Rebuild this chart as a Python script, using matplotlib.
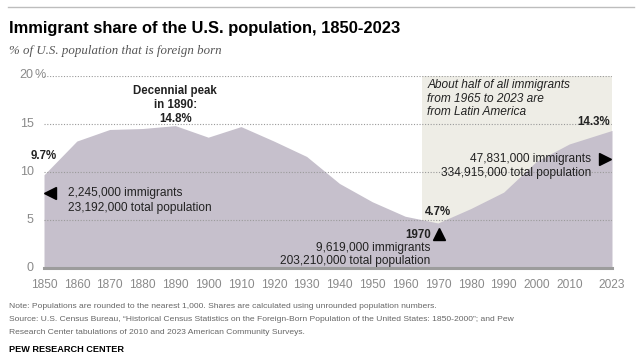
import matplotlib
matplotlib.use('Agg')
import matplotlib.pyplot as plt
import numpy as np

# data
years = [1850, 1860, 1870, 1880, 1890, 1900, 1910, 1920, 1930, 1940,
         1950, 1960, 1970, 1980, 1990, 2000, 2010, 2023]
share = [9.7, 13.2, 14.4, 14.5, 14.8, 13.6, 14.7, 13.2, 11.6, 8.8,
         6.9, 5.4, 4.7, 6.2, 7.9, 11.1, 12.9, 14.3]
tick_years = [1850, 1860, 1870, 1880, 1890, 1900, 1910, 1920, 1930, 1940,
              1950, 1960, 1970, 1980, 1990, 2000, 2010, 2023]
yticks = [0, 5, 10, 15, 20]
latin_start, latin_end = 1965, 2023

W, H = 642, 355
AREA = '#c6c0cc'
BAND = '#eeede6'
GRAY = '#8a8a8a'
TXT = '#222222'
SANS = ['Liberation Sans', 'DejaVu Sans']

fig = plt.figure(figsize=(W/100, H/100), dpi=100)
fig.patch.set_facecolor('white')

def fx(x): return x / W
def fy(y): return 1 - y / H

# axes placement (pixels)
x0, x1, y0, y1 = 44, 612, 268.3, 75.5
ax = fig.add_axes([fx(x0), fy(y0), fx(x1) - fx(x0), fy(y1) - fy(y0)])
ax.set_xlim(1850, 2023)
ax.set_ylim(0, 20)
for s in ax.spines.values():
    s.set_visible(False)
ax.set_xticks([]); ax.set_yticks([])
ax.patch.set_alpha(0)

# Latin America band
ax.axvspan(latin_start, latin_end, ymin=0, ymax=1, color=BAND, lw=0, zorder=0)
# area
ax.fill_between(years, share, 0, color=AREA, lw=0, zorder=1)
# grid lines
for v in yticks[1:]:
    ax.axhline(v, color='#9a9a9a', lw=0.8, ls=(0, (1, 1.5)), zorder=2)
ax.axhline(0, color='#9c9c9c', lw=2.2, zorder=3, clip_on=False)

# y labels
for v in yticks:
    ax.text(-0.018, v, str(v), transform=ax.get_yaxis_transform(), ha='right', va='center',
            fontsize=9, color=GRAY, family=SANS)
ax.text(-0.016, 20, '%', transform=ax.get_yaxis_transform(), ha='left', va='center',
        fontsize=9, color=GRAY, family=SANS)
# x labels
for yr in tick_years:
    ax.text(yr, -0.055, str(yr), transform=ax.get_xaxis_transform(), ha='center', va='top',
            fontsize=8.6, color=GRAY, family=SANS)

# annotations
ax.text(1850, 11.7, '9.7%', ha='center', va='center', fontsize=8.3, fontweight='bold', color=TXT, family=SANS)
ax.plot(1851.8, 7.8, marker='<', ms=8, color='black', clip_on=False, zorder=5)
ax.text(1857.2, 7.8, '2,245,000 immigrants', ha='left', va='center', fontsize=8.6, color=TXT, family=SANS)
ax.text(1857.2, 6.25, '23,192,000 total population', ha='left', va='center', fontsize=8.6, color=TXT, family=SANS)

ax.text(1890, 16.95, 'Decennial peak\nin 1890:\n14.8%', ha='center', va='center', fontsize=8.3,
        fontweight='bold', color=TXT, family=SANS, linespacing=1.25)

ax.text(1970, 5.8, '4.7%', ha='center', va='center', fontsize=8.3, fontweight='bold', color=TXT, family=SANS)
ax.plot(1970.3, 3.6, marker='^', ms=8, color='black', zorder=5)
ax.text(1967.8, 3.5, '1970', ha='right', va='center', fontsize=8.3, fontweight='bold', color=TXT, family=SANS)
ax.text(1967.7, 2.1, '9,619,000 immigrants', ha='right', va='center', fontsize=8.6, color=TXT, family=SANS)
ax.text(1967.7, 0.75, '203,210,000 total population', ha='right', va='center', fontsize=8.6, color=TXT, family=SANS)

ax.text(1966.8, 17.6, 'About half of all immigrants\nfrom 1965 to 2023 are\nfrom Latin America', ha='left', va='center',
        fontsize=8.6, style='italic', color=TXT, family=SANS, linespacing=1.2)
ax.text(2022.5, 15.2, '14.3%', ha='right', va='center', fontsize=8.3, fontweight='bold', color=TXT, family=SANS)
ax.plot(2020.8, 11.3, marker='>', ms=8, color='black', clip_on=False, zorder=5)
ax.text(2016.7, 11.3, '47,831,000 immigrants', ha='right', va='center', fontsize=8.6, color=TXT, family=SANS)
ax.text(2016.7, 9.85, '334,915,000 total population', ha='right', va='center', fontsize=8.6, color=TXT, family=SANS)

# header
fig.add_artist(plt.Line2D([fx(8), fx(634)], [fy(7), fy(7)], color='#bdbdbd', lw=1))
fig.text(fx(9), fy(28), 'Immigrant share of the U.S. population, 1850-2023', ha='left', va='center',
         fontsize=11.9, fontweight='bold', color='black', family=SANS)
fig.text(fx(9), fy(51), '% of U.S. population that is foreign born', ha='left', va='center',
         fontsize=9.3, style='italic', color='#555555', family=['Liberation Serif', 'DejaVu Serif'])

# footer
notes = ['Note: Populations are rounded to the nearest 1,000. Shares are calculated using unrounded population numbers.',
         'Source: U.S. Census Bureau, \u201cHistorical Census Statistics on the Foreign-Born Population of the United States: 1850-2000\u201d; and Pew',
         'Research Center tabulations of 2010 and 2023 American Community Surveys.']
for i, line in enumerate(notes):
    fig.text(fx(9), fy(306 + 13.5 * i), line, ha='left', va='center', fontsize=6.1, color='#666666', family=SANS)
fig.text(fx(9), fy(350), 'PEW RESEARCH CENTER', ha='left', va='center', fontsize=6.6, fontweight='bold',
         color='black', family=SANS)

fig.savefig('out.png', dpi=100, facecolor='white')
